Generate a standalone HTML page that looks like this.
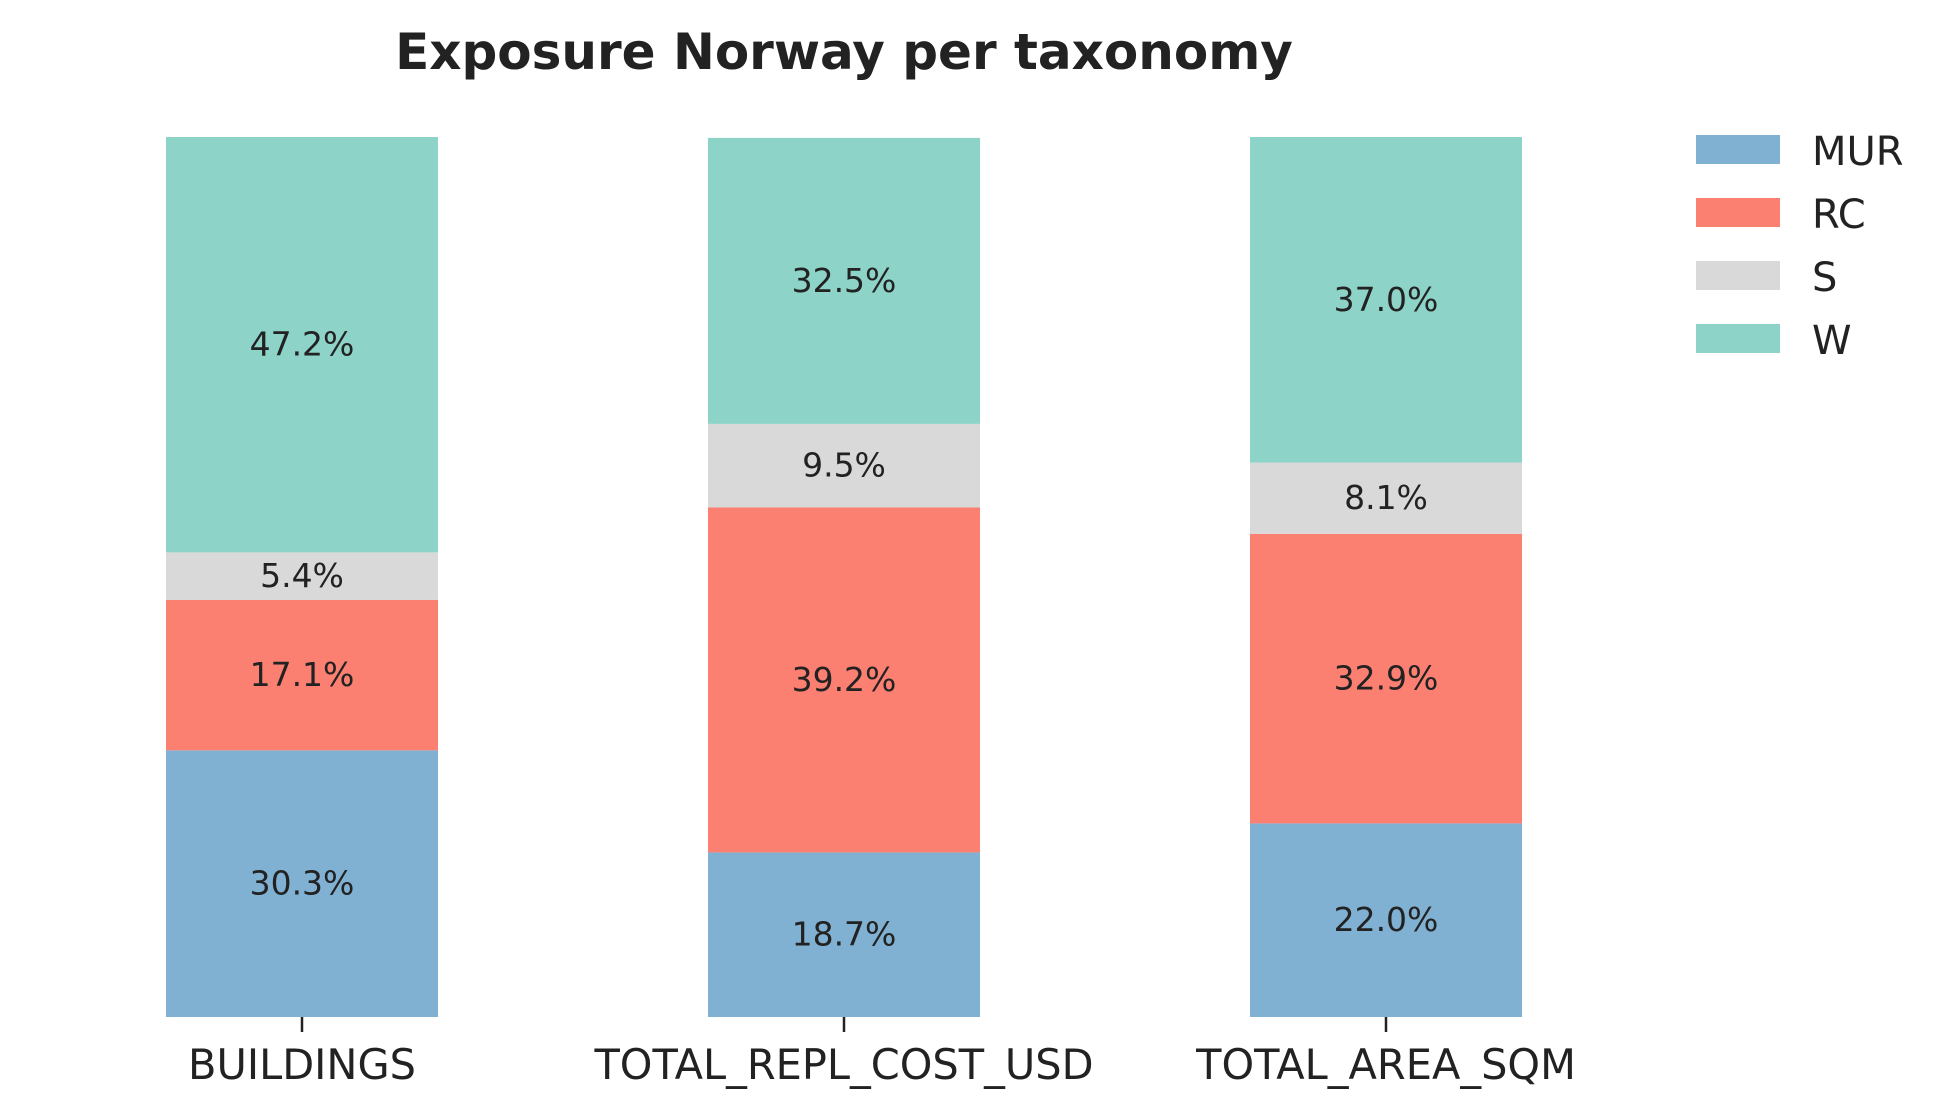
<!DOCTYPE html>
<html><head><meta charset="utf-8"><style>
html,body{margin:0;padding:0;background:#fff;}
svg{display:block;font-family:"DejaVu Sans","Liberation Sans",sans-serif;}
</style></head><body>
<svg id="chart" width="1953" height="1118" viewBox="0 0 1953 1118" xmlns="http://www.w3.org/2000/svg">
<text x="844" y="69" text-anchor="middle" font-size="50" font-weight="bold" fill="#222">Exposure Norway per taxonomy</text>
<g id="bars"></g>
<g id="xaxis"></g>
<g id="legend"></g>
</svg>
<script>
const categories = ["BUILDINGS", "TOTAL_REPL_COST_USD", "TOTAL_AREA_SQM"];
const seriesNames = ["MUR", "RC", "S", "W"];
const murValues = [30.3, 18.7, 22.0];
const rcValues = [17.1, 39.2, 32.9];
const sValues = [5.4, 9.5, 8.1];
const wValues = [47.2, 32.5, 37.0];
const colors = ["#80b1d3", "#fb8072", "#d9d9d9", "#8dd3c7"];

const NS = "http://www.w3.org/2000/svg";
const series = [murValues, rcValues, sValues, wValues];
const yBottom = 1017, yTop = 137;
const yScale = v => yBottom - v / 100 * (yBottom - yTop);
const x0 = 302, step = 542, barW = 272;
const xCenter = i => x0 + i * step;
function mk(tag, attrs){const e=document.createElementNS(NS,tag);for(const k in attrs)e.setAttribute(k,attrs[k]);return e;}
const bars = document.getElementById('bars');
const xaxis = document.getElementById('xaxis');
const legend = document.getElementById('legend');
categories.forEach((cat, i) => {
  let cum = 0;
  series.forEach((vals, s) => {
    const v = vals[i];
    const y1 = yScale(cum + v), y2 = yScale(cum);
    const r = mk('rect', {x: xCenter(i) - barW/2, y: y1, width: barW, height: y2 - y1, fill: colors[s]});
    
    
    bars.appendChild(r);
    const t = mk('text', {x: xCenter(i), y: (y1 + y2)/2 + 11, 'text-anchor': 'middle', 'font-size': 33, fill: '#222'});
    t.textContent = v.toFixed(1) + '%';
    
    
    bars.appendChild(t);
    cum += v;
  });
  const tick = mk('line', {x1: xCenter(i), x2: xCenter(i), y1: yBottom, y2: yBottom + 15, stroke: '#222', 'stroke-width': 2.5});
  
  
  xaxis.appendChild(tick);
  const lab = mk('text', {x: xCenter(i), y: 1079, 'text-anchor': 'middle', 'font-size': 41.5, fill: '#222'});
  lab.textContent = cat;
  
  
  xaxis.appendChild(lab);
});
seriesNames.forEach((n, s) => {
  const y = 135 + s * 63;
  const p = mk('rect', {x: 1696, y: y, width: 84, height: 29, fill: colors[s]});
  
  
  legend.appendChild(p);
  const t = mk('text', {x: 1812, y: y + 30, 'font-size': 40, fill: '#222'});
  t.textContent = n;
  
  
  legend.appendChild(t);
});
</script>
</body></html>
